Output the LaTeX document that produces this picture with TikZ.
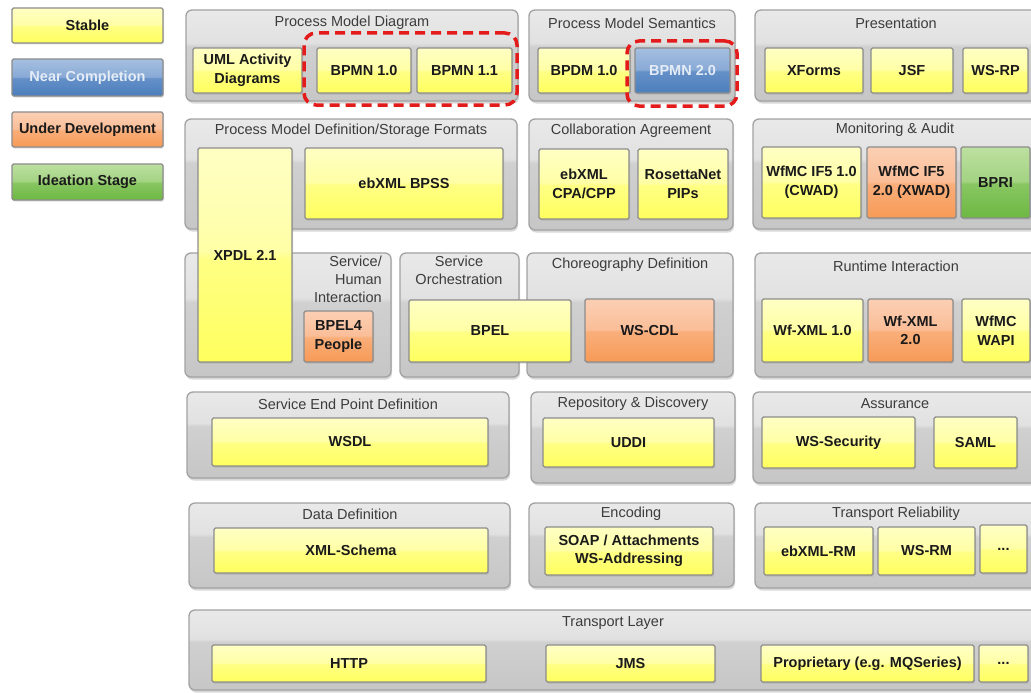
\documentclass[tikz,border=0pt]{standalone}
\usepackage{fontspec}
\setmainfont{Liberation Sans}
\usetikzlibrary{shadows}
\definecolor{cB}{HTML}{C6C6C6}\definecolor{cM}{HTML}{D0D0D0}\definecolor{cL}{HTML}{E1E1E1}\definecolor{cT}{HTML}{E9E9E9}
\definecolor{yB}{HTML}{FFFF5E}\definecolor{yM}{HTML}{FFFF84}\definecolor{yL}{HTML}{FFFFA6}\definecolor{yT}{HTML}{FFFFC4}
\definecolor{bB}{HTML}{4A7EBB}\definecolor{bM}{HTML}{6590C8}\definecolor{bL}{HTML}{89AAD6}\definecolor{bT}{HTML}{A6BFE0}
\definecolor{oB}{HTML}{F79A56}\definecolor{oM}{HTML}{F9AE7A}\definecolor{oL}{HTML}{FABE98}\definecolor{oT}{HTML}{FBCFB4}
\definecolor{gB}{HTML}{6DB842}\definecolor{gM}{HTML}{88C662}\definecolor{gL}{HTML}{A3D383}\definecolor{gT}{HTML}{BDE0A0}
\definecolor{cbord}{HTML}{A2A2A2}\definecolor{bbord}{HTML}{8C8C8C}
\definecolor{ttlc}{HTML}{3C3C3C}\definecolor{txt}{HTML}{1A1A1A}\definecolor{wtxt}{HTML}{E4ECF6}
\definecolor{hlred}{HTML}{E41B1B}
\pgfdeclareverticalshading{graygloss}{100bp}{color(0bp)=(cB); color(25bp)=(cB); color(55bp)=(cM); color(57bp)=(cL); color(75bp)=(cT); color(100bp)=(cT)}
\pgfdeclareverticalshading{ygloss}{100bp}{color(0bp)=(yB); color(25bp)=(yB); color(49bp)=(yM); color(51bp)=(yL); color(75bp)=(yT); color(100bp)=(yT)}
\pgfdeclareverticalshading{bgloss}{100bp}{color(0bp)=(bB); color(25bp)=(bB); color(49bp)=(bM); color(51bp)=(bL); color(75bp)=(bT); color(100bp)=(bT)}
\pgfdeclareverticalshading{ogloss}{100bp}{color(0bp)=(oB); color(25bp)=(oB); color(49bp)=(oM); color(51bp)=(oL); color(75bp)=(oT); color(100bp)=(oT)}
\pgfdeclareverticalshading{ggloss}{100bp}{color(0bp)=(gB); color(25bp)=(gB); color(49bp)=(gM); color(51bp)=(gL); color(75bp)=(gT); color(100bp)=(gT)}
\newcommand\bx[7]{\node[#2, minimum width={(#5)-(#3)}, minimum height={(#6)-(#4)}] (#1) at ({((#3)+(#5))/2},{((#4)+(#6))/2}) {#7};}
\tikzset{
  cont/.style={draw=cbord, line width=1.3pt, rounded corners=6pt, shading=graygloss, inner sep=0pt,
    drop shadow={shadow xshift=1pt, shadow yshift=-2.5pt, opacity=0.3}},
  card/.style={draw=bbord, line width=1.2pt, rounded corners=1.5pt, inner sep=0pt, align=center,
    font=\bfseries\fontsize{14.5}{18.5}\selectfont, text=txt,
    drop shadow={shadow xshift=1pt, shadow yshift=-1.5pt, opacity=0.25}},
  ybox/.style={card, shading=ygloss},
  bbox/.style={card, shading=bgloss, text=wtxt},
  obox/.style={card, shading=ogloss},
  gbox/.style={card, shading=ggloss},
  ttl/.style={font=\fontsize{14.5}{18}\selectfont, text=ttlc, inner sep=0pt, align=center},
  hl/.style={draw=hlred, line width=3.5pt, dash pattern=on 10pt off 6pt, rounded corners=12pt, inner sep=0pt}
}
\begin{document}
\begin{tikzpicture}[x=1pt,y=-1pt]
\useasboundingbox (0,0) rectangle (1031,693);
\clip (0,0) rectangle (1031,693);
\fill[white] (0,0) rectangle (1031,693);
% legend
\bx{lgS}{ybox}{12}{8}{163}{43}{Stable}
\bx{lgN}{bbox}{12}{59}{163}{96}{Near Completion}
\bx{lgU}{obox}{12}{112}{163}{147}{Under Development}
\bx{lgI}{gbox}{12}{164}{163}{200}{Ideation Stage}
% containers
\bx{pmd}{cont}{186}{10}{518}{101}{}
\bx{pms}{cont}{529}{10}{735}{101}{}
\bx{pres}{cont}{755}{10}{1038}{101}{}
\bx{pmdsf}{cont}{185}{119}{517}{229}{}
\bx{collab}{cont}{529}{119}{733}{230}{}
\bx{mon}{cont}{753}{119}{1038}{229}{}
\bx{shi}{cont}{185}{253}{391}{377}{}
\bx{sorch}{cont}{400}{253}{519}{377}{}
\bx{chor}{cont}{527}{253}{733}{377}{}
\bx{rt}{cont}{755}{253}{1038}{377}{}
\bx{sep}{cont}{187}{392}{509}{478}{}
\bx{repo}{cont}{531}{392}{735}{483}{}
\bx{assur}{cont}{753}{392}{1038}{483}{}
\bx{data}{cont}{189}{503}{510}{588}{}
\bx{enc}{cont}{529}{503}{734}{587}{}
\bx{trel}{cont}{755}{503}{1038}{588}{}
\bx{tlay}{cont}{189}{610}{1038}{690}{}
% titles
\node[ttl] (pmdT) at (352,23) {Process Model Diagram};
\node[ttl] (pmsT) at (632,23) {Process Model Semantics};
\node[ttl] (presT) at (896,23) {Presentation};
\node[ttl] (pmdsfT) at (351,131) {Process Model Definition/Storage Formats};
\node[ttl] (collabT) at (631,131) {Collaboration Agreement};
\node[ttl] (monT) at (895,130) {Monitoring \& Audit};
\node[ttl, align=right, anchor=north east] (shiT) at (382,256) {Service/\\Human\\Interaction};
\node[ttl, anchor=north] (sorchT) at (459,256) {Service\\Orchestration};
\node[ttl] (chorT) at (630,265) {Choreography Definition};
\node[ttl] (rtT) at (896,266) {Runtime Interaction};
\node[ttl] (sepT) at (348,404) {Service End Point Definition};
\node[ttl] (repoT) at (633,404) {Repository \& Discovery};
\node[ttl] (assurT) at (895,404) {Assurance};
\node[ttl] (dataT) at (350,514) {Data Definition};
\node[ttl] (encT) at (631,514) {Encoding};
\node[ttl] (trelT) at (896,514) {Transport Reliability};
\node[ttl] (tlayT) at (613,623) {Transport Layer};
% row 1
\bx{uml}{ybox}{193}{48}{302}{93}{UML Activity\\Diagrams}
\bx{bp10}{ybox}{317}{48}{411}{93}{BPMN 1.0}
\bx{bp11}{ybox}{417}{48}{512}{93}{BPMN 1.1}
\bx{bpdm}{ybox}{538}{48}{630}{93}{BPDM 1.0}
\bx{bp20}{bbox}{635}{48}{730}{93}{BPMN 2.0}
\bx{xf}{ybox}{765}{48}{863}{93}{XForms}
\bx{jsf}{ybox}{871}{48}{953}{93}{JSF}
\bx{wsrp}{ybox}{963}{48}{1028}{93}{WS-RP}
% row 2
\bx{xpdl}{ybox}{198}{148}{292}{362}{XPDL 2.1}
\bx{bpss}{ybox}{305}{148}{503}{219}{ebXML BPSS}
\bx{cpa}{ybox}{539}{149}{629}{219}{ebXML\\CPA/CPP}
\bx{ros}{ybox}{638}{149}{728}{219}{RosettaNet\\PIPs}
\bx{if51}{ybox}{762}{147}{861}{218}{WfMC IF5 1.0\\(CWAD)}
\bx{if52}{obox}{867}{147}{956}{218}{WfMC IF5\\2.0 (XWAD)}
\bx{bpri}{gbox}{961}{147}{1030}{218}{BPRI}
% row 3
\bx{b4p}{obox}{304}{311}{373}{362}{BPEL4\\People}
\bx{bpel}{ybox}{409}{300}{571}{362}{BPEL}
\bx{wscdl}{obox}{585}{299}{714}{362}{WS-CDL}
\bx{wfx1}{ybox}{762}{299}{863}{362}{Wf-XML 1.0}
\bx{wfx2}{obox}{868}{299}{953}{362}{Wf-XML\\2.0}
\bx{wapi}{ybox}{962}{299}{1030}{362}{WfMC\\WAPI}
% row 4
\bx{wsdl}{ybox}{212}{418}{488}{466}{WSDL}
\bx{uddi}{ybox}{543}{418}{714}{467}{UDDI}
\bx{wssec}{ybox}{762}{417}{915}{468}{WS-Security}
\bx{saml}{ybox}{934}{417}{1017}{468}{SAML}
% row 5
\bx{xsd}{ybox}{214}{528}{488}{573}{XML-Schema}
\bx{soap}{ybox}{545}{527}{713}{575}{SOAP / Attachments\\WS-Addressing}
\bx{ebrm}{ybox}{764}{527}{873}{575}{ebXML-RM}
\bx{wsrm}{ybox}{878}{527}{975}{575}{WS-RM}
\bx{dots1}{ybox}{980}{525}{1027}{573}{...}
% row 6
\bx{http}{ybox}{212}{645}{486}{682}{HTTP}
\bx{jms}{ybox}{546}{645}{715}{682}{JMS}
\bx{prop}{ybox}{761}{645}{974}{682}{Proprietary (e.g. MQSeries)}
\bx{dots2}{ybox}{979}{645}{1028}{682}{...}
% highlights
\bx{hl1}{hl}{304}{33}{517}{105}{}
\bx{hl2}{hl}{627}{41}{737}{106}{}
\end{tikzpicture}
\end{document}
